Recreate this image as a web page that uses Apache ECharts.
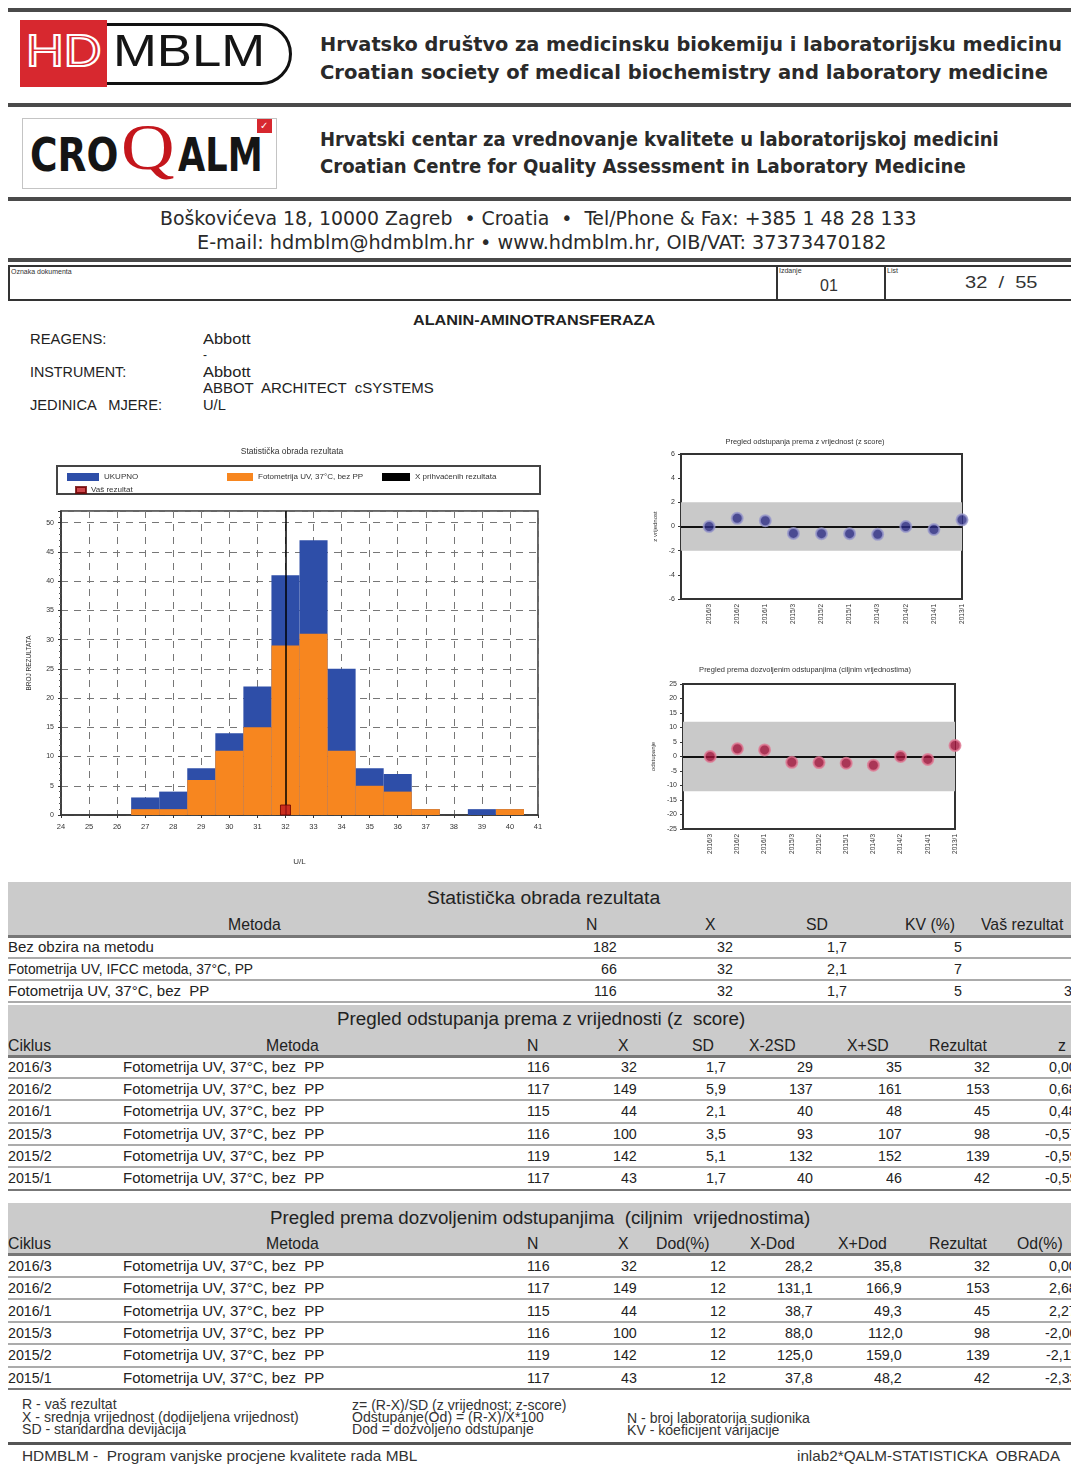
<!DOCTYPE html>
<html><head><meta charset="utf-8">
<script src="https://cdn.jsdelivr.net/npm/echarts/dist/echarts.min.js"></script>
<style>
html,body{margin:0;padding:0;background:#fff;}
#page{position:relative;width:1071px;height:1465px;overflow:hidden;background:#fff;}
.t{position:absolute;white-space:pre;}
.r{position:absolute;}
.ch{position:absolute;}
</style></head>
<body><div id="page">
<div id="hist" class="ch" style="left:0;top:435px;width:570px;height:440px"></div>
<div id="zc" class="ch" style="left:630px;top:425px;width:360px;height:225px"></div>
<div id="oc" class="ch" style="left:630px;top:650px;width:360px;height:225px"></div>
</div>
<script>
// ---------------- DATA ----------------
const histBins = ['24','25','26','27','28','29','30','31','32','33','34','35','36','37','38','39','40','41'];
const totalCounts = [0,0,0,3,4,8,14,22,41,47,25,8,7,1,0,1,1,0];
const methodCounts = [0,0,0,1,1,6,11,15,29,31,11,5,4,1,0,0,1,0];
const acceptedMean = '32';
const yourResult = '32';
const histSeriesNames = ['UKUPNO','Fotometrija UV, 37°C, bez PP','X prihvaćenih rezultata','Vaš rezultat'];

const cycles = ['2016/3','2016/2','2016/1','2015/3','2015/2','2015/1','2014/3','2014/2','2014/1','2013/1'];
const zScores = [0.00,0.68,0.48,-0.57,-0.59,-0.59,-0.65,0.00,-0.25,0.55];
const odValues = [0.00,2.68,2.27,-2.00,-2.11,-2.33,-3.0,0.0,-1.0,3.8];
const zLimit = 2;
const odLimit = 12;

const statHeaders = ['Metoda','N','X','SD','KV (%)','Vaš rezultat'];
const statRows = [
  ['Bez obzira na metodu','182','32','1,7','5',''],
  ['Fotometrija UV, IFCC metoda, 37°C, PP','66','32','2,1','7',''],
  ['Fotometrija UV, 37°C, bez  PP','116','32','1,7','5','32']
];
const zHeaders = ['Ciklus','Metoda','N','X','SD','X-2SD','X+SD','Rezultat','z'];
const zRows = [
  ['2016/3','Fotometrija UV, 37°C, bez  PP','116','32','1,7','29','35','32','0,00'],
  ['2016/2','Fotometrija UV, 37°C, bez  PP','117','149','5,9','137','161','153','0,68'],
  ['2016/1','Fotometrija UV, 37°C, bez  PP','115','44','2,1','40','48','45','0,48'],
  ['2015/3','Fotometrija UV, 37°C, bez  PP','116','100','3,5','93','107','98','-0,57'],
  ['2015/2','Fotometrija UV, 37°C, bez  PP','119','142','5,1','132','152','139','-0,59'],
  ['2015/1','Fotometrija UV, 37°C, bez  PP','117','43','1,7','40','46','42','-0,59']
];
const odHeaders = ['Ciklus','Metoda','N','X','Dod(%)','X-Dod','X+Dod','Rezultat','Od(%)'];
const odRows = [
  ['2016/3','Fotometrija UV, 37°C, bez  PP','116','32','12','28,2','35,8','32','0,00'],
  ['2016/2','Fotometrija UV, 37°C, bez  PP','117','149','12','131,1','166,9','153','2,68'],
  ['2016/1','Fotometrija UV, 37°C, bez  PP','115','44','12','38,7','49,3','45','2,27'],
  ['2015/3','Fotometrija UV, 37°C, bez  PP','116','100','12','88,0','112,0','98','-2,00'],
  ['2015/2','Fotometrija UV, 37°C, bez  PP','119','142','12','125,0','159,0','139','-2,11'],
  ['2015/1','Fotometrija UV, 37°C, bez  PP','117','43','12','37,8','48,2','42','-2,33']
];

// ---------------- PAGE HELPERS ----------------
const page = document.getElementById('page');
const FN = '"Liberation Sans", Arial, sans-serif';
const FH = '"DejaVu Sans", Verdana, sans-serif';
const FHC = '"DejaVu Sans Condensed", "DejaVu Sans", sans-serif';
function T(str, x, y, o) {
  o = o || {};
  const s = document.createElement('div');
  s.className = 't';
  s.textContent = str;
  const size = o.size || 14;
  s.style.fontSize = size + 'px';
  s.style.lineHeight = size + 'px';
  s.style.fontFamily = o.font || FN;
  if (o.bold) s.style.fontWeight = 'bold';
  s.style.color = o.color || '#222';
  s.style.top = (y - size * 0.55) + 'px';
  if (o.css) Object.assign(s.style, o.css);
  page.appendChild(s);
  const w0 = s.offsetWidth || 1;
  let sx = o.sx || 1;
  if (o.w) sx = o.w / w0;
  const w = w0 * sx;
  let left = x;
  if (o.align === 'right') left = x - w; else if (o.align === 'center') left = x - w / 2;
  s.style.left = left + 'px';
  s.style.transformOrigin = 'left center';
  s.style.transform = 'scaleX(' + sx + ')';
  return s;
}
function R(x, y, w, h, color, css) {
  const d = document.createElement('div');
  d.className = 'r';
  Object.assign(d.style, {left: x + 'px', top: y + 'px', width: w + 'px', height: h + 'px', background: color || 'transparent'});
  if (css) Object.assign(d.style, css);
  page.appendChild(d);
  return d;
}

// ---------------- HEADER ----------------
const lineC = '#4a4a4a';
R(8, 8, 1063, 4, lineC);
R(8, 103, 1063, 4, lineC);
R(8, 197, 1063, 4, lineC);
R(8, 258, 1063, 4, lineC);

// HDMBLM logo
R(92, 23, 194, 56, 'transparent', {border: '3px solid #111', borderRadius: '0 32px 32px 0'});
R(20, 20, 87, 67, '#d7282f');
T('HD', 26, 53, {size: 44, font: FN, color: '#d7282f', w: 76, css: {webkitTextStroke: '2px #fff', zIndex: 2}});
T('MBLM', 113, 53, {size: 44, font: FN, color: '#151515', w: 152});

// CROQALM logo
R(22, 118, 253, 69, 'transparent', {border: '1px solid #c4c4c4'});
T('CRO', 30, 157, {size: 46, bold: true, font: FHC, color: '#151515', w: 88});
T('Q', 121, 150, {size: 66, font: '"Liberation Serif", serif', color: '#c4161c', w: 54});
T('ALM', 178, 157, {size: 46, bold: true, font: FHC, color: '#151515', w: 85});
R(257, 119, 15, 14, '#d7282f');
T('✓', 260, 126, {size: 10, color: '#fff', font: FH});

T('Hrvatsko društvo za medicinsku biokemiju i laboratorijsku medicinu', 320, 45, {size: 19, bold: true, font: FH, w: 742, color: '#2a2a2a'});
T('Croatian society of medical biochemistry and laboratory medicine', 320, 73, {size: 19, bold: true, font: FH, w: 728, color: '#2a2a2a'});
T('Hrvatski centar za vrednovanje kvalitete u laboratorijskoj medicini', 320, 140, {size: 19, bold: true, font: FH, w: 679, color: '#2a2a2a'});
T('Croatian Centre for Quality Assessment in Laboratory Medicine', 320, 167, {size: 19, bold: true, font: FH, w: 646, color: '#2a2a2a'});
T('Boškovićeva 18, 10000 Zagreb  • Croatia  •  Tel/Phone & Fax: +385 1 48 28 133', 160, 219, {size: 19, font: FHC, w: 756, color: '#2a2a2a'});
T('E-mail: hdmblm@hdmblm.hr • www.hdmblm.hr, OIB/VAT: 37373470182', 197, 243, {size: 19, font: FHC, w: 689, color: '#2a2a2a'});

// document box
R(8, 265, 1075, 32, 'transparent', {border: '2px solid #333'});
R(776, 265, 2, 35, '#333');
R(884, 265, 2, 35, '#333');
T('Oznaka dokumenta', 11, 272, {size: 7, color: '#333'});
T('Izdanje', 779, 271, {size: 7, color: '#333'});
T('List', 887, 271, {size: 7, color: '#333'});
T('01', 820, 287, {size: 16, color: '#333'});
T('32  /  55', 965, 283, {size: 17, w: 72, color: '#333'});

// ---------------- INFO ----------------
T('ALANIN-AMINOTRANSFERAZA', 534, 321, {size: 14, bold: true, align: 'center', w: 242});
T('REAGENS:', 30, 340, {size: 14, w: 76});
T('Abbott', 203, 340, {size: 14, w: 47});
T('-', 203, 356, {size: 12});
T('INSTRUMENT:', 30, 373, {size: 14, w: 96});
T('Abbott', 203, 373, {size: 14, w: 47});
T('ABBOT  ARCHITECT  cSYSTEMS', 203, 389, {size: 14, w: 231});
T('JEDINICA   MJERE:', 30, 406, {size: 14, w: 132});
T('U/L', 203, 406, {size: 14, w: 23});

// ---------------- TABLES ----------------
const band = '#cbcbcb', dark = '#777', sep = '#ababab';
const HS = {size: 17, sx: 0.93};
function cell(str, x, y, align, isText) {
  const o = {align: align, size: 15, sx: 0.95};
  if (isText) o.sx = (str.indexOf('IFCC') >= 0) ? 0.92 : 1.0;
  return T(str, x, y, o);
}

// Table 1
R(8, 882, 1063, 54, band);
R(8, 935, 1063, 3, dark);
T('Statistička obrada rezultata', 543, 899, {size: 18, align: 'center', w: 233});
const sh = [[255,'center'],[592,'center'],[710,'center'],[817,'center'],[905,'left'],[981,'left']];
statHeaders.forEach((h, i) => T(h, sh[i][0], 925, Object.assign({align: sh[i][1]}, HS)));
const sc = [[8,'left'],[617,'right'],[733,'right'],[847,'right'],[962,'right'],[1080,'right']];
statRows.forEach((row, r) => {
  const y = 947 + r * 22;
  row.forEach((v, i) => { if (v !== '') cell(v, sc[i][0], y, sc[i][1], i === 0); });
  R(8, y + 10, 1063, 2, sep);
});

// Table 2
R(8, 1005, 1063, 51, band);
R(8, 1055, 1063, 3, dark);
T('Pregled odstupanja prema z vrijednosti (z  score)', 541, 1020, {size: 18, align: 'center', w: 408});
const zh = [[8,'left'],[293,'center'],[533,'center'],[623,'center'],[703,'center'],[772,'center'],[868,'center'],[958,'center'],[1062,'center']];
zHeaders.forEach((h, i) => T(h, zh[i][0], 1046, Object.assign({align: zh[i][1]}, HS)));
const zc = [[8,'left'],[123,'left'],[550,'right'],[637,'right'],[726,'right'],[813,'right'],[902,'right'],[990,'right'],[1077,'right']];
zRows.forEach((row, r) => {
  const y = 1067 + r * 22.3;
  row.forEach((v, i) => cell(v, zc[i][0], y, zc[i][1], i === 1));
  R(8, y + 10, 1063, 2, r === zRows.length - 1 ? dark : sep);
});

// Table 3
R(8, 1203, 1063, 51, band);
R(8, 1253, 1063, 3, dark);
T('Pregled prema dozvoljenim odstupanjima  (ciljnim  vrijednostima)', 540, 1219, {size: 18, align: 'center', w: 540});
const oh = [[8,'left'],[293,'center'],[533,'center'],[623,'center'],[683,'center'],[772,'center'],[862,'center'],[958,'center'],[1040,'center']];
odHeaders.forEach((h, i) => T(h, oh[i][0], 1244, Object.assign({align: oh[i][1]}, HS)));
const oc = [[8,'left'],[123,'left'],[550,'right'],[637,'right'],[726,'right'],[813,'right'],[902,'right'],[990,'right'],[1077,'right']];
odRows.forEach((row, r) => {
  const y = 1266 + r * 22.4;
  row.forEach((v, i) => cell(v, oc[i][0], y, oc[i][1], i === 1));
  R(8, y + 10, 1063, 2, r === odRows.length - 1 ? dark : sep);
});

// Footnotes
const FS = {size: 14.5, sx: 0.97, color: '#333'};
T('R - vaš rezultat', 22, 1405, FS);
T('X - srednja vrijednost (dodijeljena vrijednost)', 22, 1418, FS);
T('SD - standardna devijacija', 22, 1430, FS);
T('z= (R-X)/SD (z vrijednost; z-score)', 352, 1406, FS);
T('Odstupanje(Od) = (R-X)/X*100', 352, 1418, FS);
T('Dod = dozvoljeno odstupanje', 352, 1430, FS);
T('N - broj laboratorija sudionika', 627, 1419, FS);
T('KV - koeficijent varijacije', 627, 1431, FS);
R(8, 1442, 1063, 3, '#555');
T('HDMBLM -  Program vanjske procjene kvalitete rada MBL', 22, 1457, Object.assign({}, FS, {w: 395}));
T('inlab2*QALM-STATISTICKA  OBRADA', 1060, 1457, Object.assign({}, FS, {align: 'right', w: 263}));

// ---------------- CHARTS ----------------
const CF = 'Liberation Sans';
const hist = echarts.init(document.getElementById('hist'), null, {renderer: 'canvas'});
const legText = {fontSize: 8, color: '#333', fontFamily: CF};
hist.setOption({
  animation: false,
  textStyle: {fontFamily: CF},
  graphic: [
    {type: 'text', x: 292, y: 17, style: {text: 'Statistička obrada rezultata', align: 'center', verticalAlign: 'middle', fontSize: 8.5, fill: '#333', fontFamily: CF}},
    {type: 'rect', shape: {x: 57, y: 31, width: 483, height: 28}, style: {fill: 'transparent', stroke: '#444', lineWidth: 2}}
  ],
  legend: [
    {data: [histSeriesNames[0]], left: 62, top: 33, icon: 'rect', itemWidth: 32, itemHeight: 8, itemGap: 4, textStyle: legText, selectedMode: false},
    {data: [histSeriesNames[1]], left: 222, top: 33, icon: 'rect', itemWidth: 26, itemHeight: 8, textStyle: legText, selectedMode: false},
    {data: [histSeriesNames[2]], left: 377, top: 33, icon: 'rect', itemWidth: 28, itemHeight: 8, textStyle: legText, selectedMode: false},
    {data: [histSeriesNames[3]], left: 70, top: 46, icon: 'rect', itemWidth: 10, itemHeight: 6, textStyle: legText, selectedMode: false}
  ],
  grid: {left: 61, top: 76, width: 477, height: 304, show: true, borderColor: '#333', borderWidth: 1.5, backgroundColor: '#fff'},
  xAxis: {
    type: 'category', data: histBins, boundaryGap: false,
    name: 'U/L', nameLocation: 'middle', nameGap: 43, nameTextStyle: {fontSize: 8, color: '#333'},
    axisLine: {show: true, lineStyle: {color: '#333', width: 1.5}},
    axisTick: {show: true, length: 3, lineStyle: {color: '#333'}},
    axisLabel: {fontSize: 7.5, color: '#333', margin: 8, interval: 0},
    splitLine: {show: true, lineStyle: {color: '#777', type: [7, 6], width: 1}}
  },
  yAxis: {
    type: 'value', min: 0, max: 52, interval: 5,
    name: 'BROJ REZULTATA', nameLocation: 'middle', nameGap: 28, nameRotate: 90, nameTextStyle: {fontSize: 6.5, color: '#333'},
    axisLine: {show: true, lineStyle: {color: '#333', width: 1.5}},
    axisTick: {show: true, length: 3, lineStyle: {color: '#333'}},
    minorTick: {show: true, splitNumber: 5, length: 2, lineStyle: {color: '#555'}},
    axisLabel: {fontSize: 7, color: '#333', margin: 7, showMaxLabel: false},
    splitLine: {show: true, lineStyle: {color: '#777', type: [7, 6], width: 1}}
  },
  series: [
    {name: histSeriesNames[0], type: 'bar', data: totalCounts, barWidth: '100%', barGap: '-100%', itemStyle: {color: '#2e4ea8'}, z: 2},
    {name: histSeriesNames[1], type: 'bar', data: methodCounts, barWidth: '100%', barGap: '-100%', itemStyle: {color: '#f7861f'}, z: 3},
    {name: histSeriesNames[2], type: 'line', data: [], color: '#000', z: 5,
     markLine: {silent: true, symbol: 'none', label: {show: false}, lineStyle: {color: '#000', width: 1.5, type: 'solid'}, data: [{xAxis: acceptedMean}]}},
    {name: histSeriesNames[3], type: 'scatter', data: [[yourResult, 0]], symbol: 'rect', symbolSize: 10, symbolOffset: [0, -5],
     itemStyle: {color: '#c0181e', borderColor: '#6a0000', borderWidth: 1}, z: 6}
  ]
});

function devChart(el, title, values, limit, yMin, yMax, yInt, yName, ptColor, ptBorder, grid, titleY) {
  const ch = echarts.init(document.getElementById(el), null, {renderer: 'canvas'});
  ch.setOption({
    animation: false,
    textStyle: {fontFamily: CF},
    graphic: [{type: 'text', x: 175, y: titleY, style: {text: title, align: 'center', verticalAlign: 'middle', fontSize: 7.5, fill: '#333', fontFamily: CF}}],
    grid: Object.assign({show: true, borderColor: '#333', borderWidth: 2}, grid),
    xAxis: {
      type: 'value', min: 0, max: cycles.length, interval: 1,
      axisLine: {show: false}, splitLine: {show: false},
      axisTick: {show: true, length: 3, lineStyle: {color: '#333'}},
      axisLabel: {rotate: 90, fontSize: 6.5, color: '#333', margin: 5, formatter: v => cycles[v - 1] || ''}
    },
    yAxis: {
      type: 'value', min: yMin, max: yMax, interval: yInt,
      name: yName, nameLocation: 'middle', nameGap: 22, nameRotate: 90, nameTextStyle: {fontSize: 6, color: '#333'},
      axisLine: {show: false}, splitLine: {show: false},
      axisTick: {show: true, length: 3, lineStyle: {color: '#333'}},
      axisLabel: {fontSize: 7, color: '#333', margin: 6}
    },
    series: [
      {type: 'line', data: [], silent: true,
       markArea: {silent: true, itemStyle: {color: '#c9c9c9'}, data: [[{yAxis: -limit}, {yAxis: limit}]]},
       markLine: {silent: true, symbol: 'none', label: {show: false}, lineStyle: {color: '#111', width: 2, type: 'solid'}, data: [{yAxis: 0}]}},
      {type: 'scatter', data: values.map((v, i) => [i + 1, v]), symbolSize: 11, z: 5,
       itemStyle: {color: ptColor, borderColor: ptBorder, borderWidth: 2}}
    ]
  });
}
devChart('zc', 'Pregled odstupanja prema z vrijednost (z score)', zScores, zLimit, -6, 6, 2, 'z vrijednost', '#2c2c84', '#9a9acc',
  {left: 51, top: 29, width: 281, height: 145}, 17);
devChart('oc', 'Pregled prema dozvoljenim odstupanjima (ciljnim vrijednostima)', odValues, odLimit, -25, 25, 5, 'odstupanje', '#a3123a', '#e07a95',
  {left: 53, top: 34, width: 272, height: 145}, 20);
</script>
</body></html>
